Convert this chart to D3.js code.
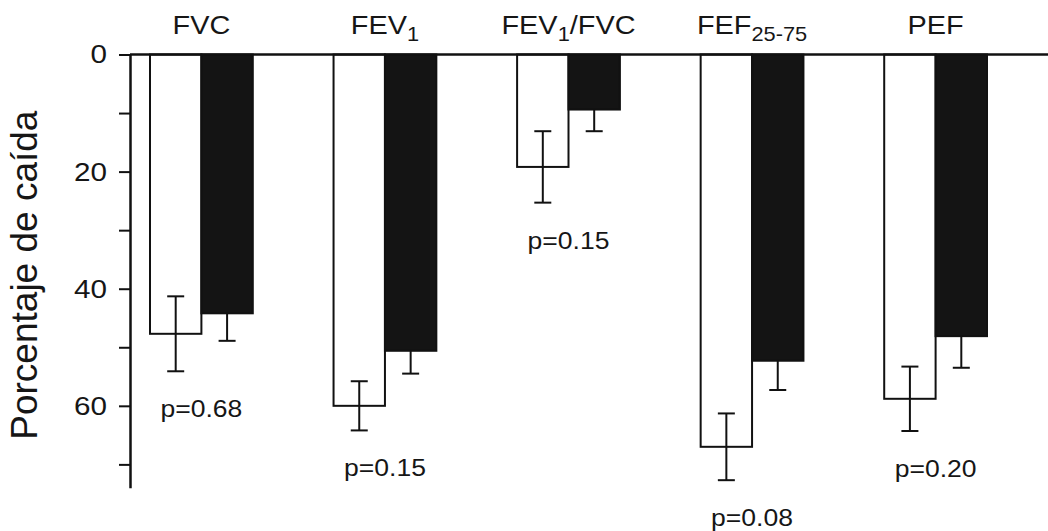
<!DOCTYPE html>
<html>
<head>
<meta charset="utf-8">
<script src="https://cdn.jsdelivr.net/npm/d3@7"></script>
<style>
  html, body { margin: 0; padding: 0; background: #fff; }
  svg { display: block; }
  text { font-family: "Liberation Sans", Arial, Helvetica, sans-serif; fill: #161616; }
</style>
</head>
<body>
<svg id="chart" width="1048" height="531"></svg>
<script>
// ---- data ----
const categories = ["FVC", "FEV1", "FEV1/FVC", "FEF25-75", "PEF"];
const titleParts = [
  [["FVC", false]],
  [["FEV", false], ["1", true]],
  [["FEV", false], ["1", true], ["/FVC", false]],
  [["FEF", false], ["25-75", true]],
  [["PEF", false]]
];
const seriesNames = ["blanco", "negro"];
const valuesWhite = [47.7, 60.0, 19.2, 67.0, 58.8];
const errorsWhite = [6.4, 4.2, 6.1, 5.7, 5.5];
const valuesDark = [44.2, 50.6, 9.4, 52.3, 48.1];
const errorsDark = [4.7, 3.9, 3.7, 5.0, 5.4];
const pLabels = ["p=0.68", "p=0.15", "p=0.15", "p=0.08", "p=0.20"];
const majorTicks = [0, 20, 40, 60];
const minorTicks = [10, 30, 50, 70];
const yLabel = "Porcentaje de caída";

// ---- build rows ----
const rows = categories.map((c, i) => ({
  cat: c,
  bars: [
    { s: seriesNames[0], v: valuesWhite[i], e: errorsWhite[i] },
    { s: seriesNames[1], v: valuesDark[i], e: errorsDark[i] }
  ]
}));

const svg = d3.select("#chart");
const y = d3.scaleLinear().domain([0, 74]).range([54.5, 487.8]);
const x0 = d3.scaleBand().domain(categories).range([150, 987]).paddingInner(0.44).paddingOuter(0);
const x1 = d3.scaleBand().domain(seriesNames).range([0, x0.bandwidth()]);
const fill = d3.scaleOrdinal().domain(seriesNames).range(["#ffffff", "#141414"]);

// bars
const g = svg.append("g");
const groups = g.selectAll("g.grp").data(rows).join("g")
  .attr("class", "grp")
  .attr("transform", d => `translate(${x0(d.cat)},0)`);

groups.selectAll("rect").data(d => d.bars).join("rect")
  .attr("x", d => x1(d.s))
  .attr("y", y(0))
  .attr("width", x1.bandwidth())
  .attr("height", d => y(d.v) - y(0))
  .attr("fill", d => fill(d.s))
  .attr("stroke", "#111")
  .attr("stroke-width", 2);

// error bars (the half hidden inside the dark bars is not drawn)
const capW = 17;
const isWhite = d => d.s === seriesNames[0];
const eb = groups.selectAll("g.eb").data(d => d.bars).join("g").attr("class", "eb")
  .attr("transform", d => `translate(${x1(d.s) + x1.bandwidth() / 2},0)`);
eb.append("line").attr("x1", 0).attr("x2", 0)
  .attr("y1", d => isWhite(d) ? y(d.v - d.e) : y(d.v)).attr("y2", d => y(d.v + d.e))
  .attr("stroke", "#111").attr("stroke-width", 2);
eb.append("line").attr("x1", -capW / 2).attr("x2", capW / 2)
  .attr("y1", d => y(d.v + d.e)).attr("y2", d => y(d.v + d.e))
  .attr("stroke", "#111").attr("stroke-width", 2);
eb.filter(isWhite).append("line").attr("x1", -capW / 2).attr("x2", capW / 2)
  .attr("y1", d => y(d.v - d.e)).attr("y2", d => y(d.v - d.e))
  .attr("stroke", "#111").attr("stroke-width", 2);

// zero line across the top
svg.append("line")
  .attr("x1", 130).attr("x2", 1048)
  .attr("y1", y(0)).attr("y2", y(0))
  .attr("stroke", "#111").attr("stroke-width", 2.5);

// y axis
const axisX = 130;
const ax = svg.append("g").attr("transform", `translate(${axisX},0)`)
  .call(d3.axisLeft(y).tickValues(majorTicks).tickSize(11).tickSizeOuter(0).tickPadding(12).tickFormat(d3.format("d")));
ax.select(".domain").attr("stroke", "#111").attr("stroke-width", 2.5);
ax.selectAll(".tick line").attr("stroke", "#111").attr("stroke-width", 2);
ax.selectAll(".tick text")
  .attr("font-size", 26.5)
  .attr("font-family", "'Liberation Sans', Arial, sans-serif")
  .attr("fill", "#161616")
  .attr("x", -23 / 1.12)
  .attr("transform", "scale(1.12,1)");

const axMinor = svg.append("g").attr("transform", `translate(${axisX},0)`)
  .call(d3.axisLeft(y).tickValues(minorTicks).tickSize(11).tickFormat(""));
axMinor.select(".domain").remove();
axMinor.selectAll(".tick line").attr("stroke", "#111").attr("stroke-width", 2);

// category titles
const titles = svg.selectAll("text.title").data(rows).join("text")
  .attr("class", "title")
  .attr("text-anchor", "middle")
  .attr("font-size", 26.5)
  .attr("transform", d => `translate(${x0(d.cat) + x0.bandwidth() / 2},34) scale(1.09,1)`);
titles.each(function (d, i) {
  const t = d3.select(this);
  let shifted = false;
  titleParts[i].forEach(([txt, sub]) => {
    const ts = t.append("tspan").text(txt);
    if (sub) { ts.attr("font-size", 20).attr("dy", shifted ? 0 : 7); shifted = true; }
    else { ts.attr("dy", shifted ? -7 : 0); shifted = false; }
  });
});

// p-value labels under each group
svg.selectAll("text.pval").data(rows).join("text")
  .attr("class", "pval")
  .attr("text-anchor", "middle")
  .attr("font-size", 23.5)
  .attr("transform", (d, i) => {
    const low = d3.max(d.bars.filter(isWhite), b => b.v + b.e);
    return `translate(${x0(d.cat) + x0.bandwidth() / 2},${y(low) + 46}) scale(1.13,1)`;
  })
  .text((d, i) => pLabels[i]);

// y label
svg.append("text")
  .attr("text-anchor", "middle")
  .attr("font-size", 37)
  .attr("transform", `translate(37,${(y(0) + y(74)) / 2 + 4}) rotate(-90)`)
  .text(yLabel);
</script>
</body>
</html>
